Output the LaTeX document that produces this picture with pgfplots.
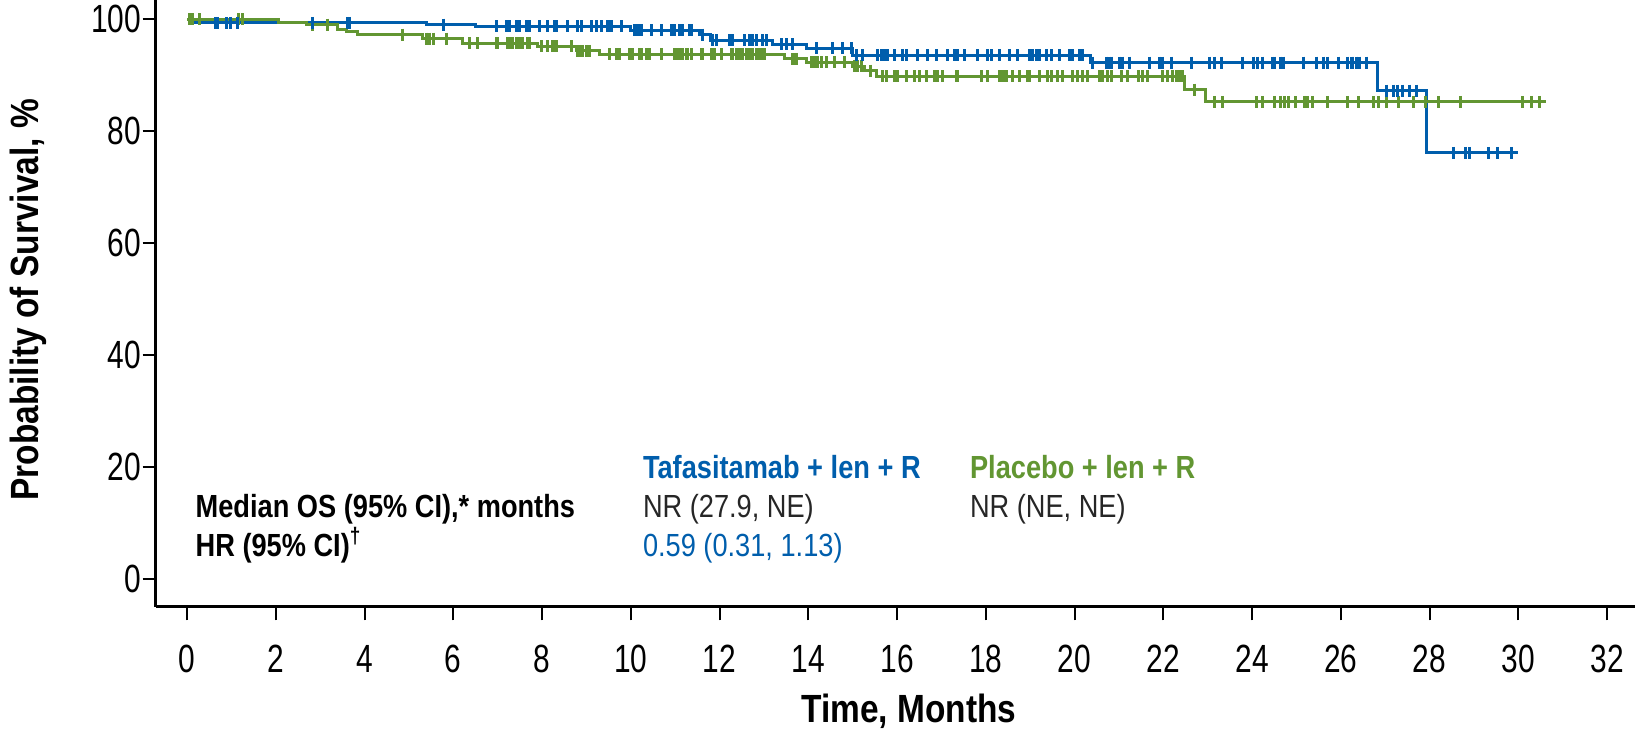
\documentclass[border=0pt]{standalone}
\usepackage{fontspec}
\setmainfont{Liberation Sans}[FakeStretch=0.85]
\newfontfamily\tickfont{Liberation Sans}[FakeStretch=0.76]
\usepackage{pgfplots}
\pgfplotsset{compat=1.18}
\definecolor{tafa}{RGB}{0,94,172}
\definecolor{plac}{RGB}{98,150,50}

\begin{document}
\begin{tikzpicture}
\begin{axis}[
 at={(0,0)}, anchor=south west,
 scale only axis,
 width=443.7pt, height=182.1pt,
 xmin=-0.7, xmax=32.63,
 ymin=-5, ymax=103.4,
 axis x line*=bottom, axis y line*=left,
 axis line style={line width=0.9pt},
 xtick={0,2,...,32}, ytick={0,20,...,100},
 tick align=outside,
 major tick length=4pt,
 tick style={line width=0.6pt, black},
 /pgf/number format/assume math mode=true,
 tick label style={font=\tickfont\fontsize{11.8}{13}\selectfont},
 xticklabel style={yshift=-4pt},
 yticklabel style={xshift=3.1pt},
 xlabel={\textbf{Time, Months}},
 ylabel={\textbf{Probability of Survival, \%}},
 label style={font=\fontsize{11.8}{13}\selectfont},
 xlabel style={at={(axis description cs:0.509,-0.171)}, anchor=center},
 ylabel style={at={(axis description cs:-0.086,0.506)}, anchor=center},
 clip=false,
]
% Tafasitamab + len + R
\addplot[const plot, tafa, line width=0.9pt] coordinates {
 (0,100) (0.15,99.3) (5.4,99.0) (6.5,98.7) (10.0,98.0) (11.55,97.2) (11.8,96.2)
 (13.2,95.5) (13.96,94.8) (15.0,93.5) (20.35,92.2) (26.82,87.2) (27.92,76.1) (30.0,76.1)};
% Placebo + len + R
\addplot[const plot, plac, line width=0.9pt] coordinates {
 (0,100) (2.05,99.4) (2.7,99.0) (3.4,98.2) (3.6,97.7) (3.85,97.2) (5.3,96.5) (6.2,95.7)
 (7.9,95.1) (8.77,94.3) (9.3,93.7) (13.46,92.9) (13.96,92.3) (15.0,91.6) (15.27,90.8)
 (15.53,89.8) (22.48,87.4) (22.96,85.2) (30.63,85.2)};
% censored, placebo
\addplot[only marks, mark=|, mark size=1.8pt, plac, mark options={line width=0.9pt}] table {
x y
0.05 100
0.12 100
0.29 100
1.17 100
1.24 100
2.82 99.0
3.16 99.0
4.85 97.2
5.39 96.5
5.46 96.5
5.55 96.5
5.84 96.5
6.36 95.7
6.54 95.7
6.97 95.7
6.99 95.7
7.22 95.7
7.26 95.7
7.33 95.7
7.42 95.7
7.49 95.7
7.56 95.7
7.67 95.7
7.71 95.7
7.98 95.1
8.12 95.1
8.23 95.1
8.28 95.1
8.32 95.1
8.66 95.1
8.80 94.3
8.84 94.3
8.91 94.3
9.00 94.3
9.07 94.3
9.52 93.7
9.68 93.7
9.74 93.7
9.97 93.7
10.04 93.7
10.19 93.7
10.24 93.7
10.35 93.7
10.42 93.7
10.69 93.7
10.98 93.7
11.03 93.7
11.10 93.7
11.16 93.7
11.25 93.7
11.28 93.7
11.37 93.7
11.59 93.7
11.61 93.7
11.82 93.7
11.88 93.7
12.04 93.7
12.27 93.7
12.29 93.7
12.38 93.7
12.45 93.7
12.52 93.7
12.61 93.7
12.67 93.7
12.74 93.7
12.83 93.7
12.90 93.7
12.97 93.7
13.01 93.7
13.64 92.9
13.69 92.9
13.73 92.9
14.07 92.3
14.14 92.3
14.21 92.3
14.30 92.3
14.41 92.3
14.59 92.3
14.82 92.3
15.04 91.6
15.11 91.6
15.20 91.6
15.40 90.8
15.67 89.8
15.76 89.8
15.94 89.8
16.01 89.8
16.22 89.8
16.40 89.8
16.51 89.8
16.67 89.8
16.85 89.8
16.91 89.8
17.03 89.8
17.34 89.8
17.37 89.8
17.91 89.8
18.04 89.8
18.31 89.8
18.36 89.8
18.43 89.8
18.47 89.8
18.61 89.8
18.76 89.8
18.94 89.8
18.99 89.8
19.21 89.8
19.40 89.8
19.49 89.8
19.62 89.8
19.73 89.8
19.96 89.8
20.07 89.8
20.19 89.8
20.30 89.8
20.57 89.8
20.64 89.8
20.75 89.8
20.84 89.8
21.06 89.8
21.20 89.8
21.43 89.8
21.52 89.8
21.65 89.8
21.99 89.8
22.10 89.8
22.21 89.8
22.30 89.8
22.37 89.8
22.44 89.8
22.71 87.4
23.16 85.2
23.34 85.2
24.11 85.2
24.24 85.2
24.51 85.2
24.63 85.2
24.74 85.2
24.81 85.2
24.97 85.2
25.19 85.2
25.26 85.2
25.37 85.2
25.69 85.2
26.16 85.2
26.39 85.2
26.73 85.2
26.84 85.2
27.04 85.2
27.31 85.2
27.63 85.2
27.90 85.2
28.21 85.2
28.69 85.2
30.09 85.2
30.29 85.2
30.47 85.2
};
% censored, tafasitamab
\addplot[only marks, mark=|, mark size=1.8pt, tafa, mark options={line width=0.9pt}] table {
x y
0.65 99.3
0.68 99.3
0.90 99.3
0.97 99.3
1.13 99.3
2.82 99.3
3.61 99.3
3.65 99.3
5.77 99.0
6.97 98.7
7.19 98.7
7.22 98.7
7.26 98.7
7.42 98.7
7.44 98.7
7.49 98.7
7.65 98.7
7.71 98.7
7.94 98.7
8.12 98.7
8.28 98.7
8.32 98.7
8.57 98.7
8.80 98.7
8.89 98.7
9.11 98.7
9.22 98.7
9.34 98.7
9.47 98.7
9.52 98.7
9.56 98.7
9.79 98.7
10.08 98.0
10.13 98.0
10.19 98.0
10.24 98.0
10.46 98.0
10.69 98.0
10.92 98.0
10.98 98.0
11.10 98.0
11.16 98.0
11.32 98.0
11.37 98.0
11.61 97.2
11.84 96.2
11.93 96.2
12.22 96.2
12.29 96.2
12.56 96.2
12.67 96.2
12.74 96.2
12.83 96.2
12.97 96.2
13.06 96.2
13.40 95.5
13.51 95.5
13.64 95.5
14.19 94.8
14.55 94.8
14.77 94.8
14.97 94.8
15.09 93.5
15.22 93.5
15.56 93.5
15.65 93.5
15.72 93.5
15.79 93.5
15.94 93.5
16.13 93.5
16.22 93.5
16.46 93.5
16.69 93.5
16.89 93.5
17.14 93.5
17.30 93.5
17.37 93.5
17.52 93.5
17.82 93.5
18.04 93.5
18.13 93.5
18.31 93.5
18.54 93.5
18.72 93.5
18.99 93.5
19.06 93.5
19.15 93.5
19.21 93.5
19.37 93.5
19.49 93.5
19.67 93.5
19.89 93.5
19.96 93.5
20.12 93.5
20.18 93.5
20.41 92.2
20.73 92.2
20.79 92.2
20.84 92.2
21.02 92.2
21.09 92.2
21.24 92.2
21.70 92.2
21.92 92.2
21.99 92.2
22.19 92.2
22.64 92.2
23.05 92.2
23.16 92.2
23.32 92.2
23.79 92.2
24.04 92.2
24.13 92.2
24.24 92.2
24.47 92.2
24.51 92.2
24.63 92.2
24.70 92.2
25.15 92.2
25.46 92.2
25.62 92.2
25.69 92.2
25.94 92.2
26.16 92.2
26.23 92.2
26.27 92.2
26.36 92.2
26.41 92.2
26.59 92.2
27.04 87.2
27.18 87.2
27.27 87.2
27.40 87.2
27.54 87.2
27.70 87.2
28.55 76.1
28.82 76.1
28.91 76.1
29.32 76.1
29.54 76.1
29.84 76.1
};
\begin{scope}[font=\fontsize{9.6}{11}\selectfont]
\node[anchor=base west, inner sep=0pt, text=tafa] at (axis cs:10.26,18.0) {\textbf{Tafasitamab + len + R}};
\node[anchor=base west, inner sep=0pt, text=plac] at (axis cs:17.63,18.0) {\textbf{Placebo + len + R}};
\node[anchor=base west, inner sep=0pt] at (axis cs:0.18,10.9) {\textbf{Median OS (95\% CI),* months}};
\node[anchor=base west, inner sep=0pt, text=black!85] at (axis cs:10.26,10.9) {NR (27.9, NE)};
\node[anchor=base west, inner sep=0pt, text=black!85] at (axis cs:17.63,10.9) {NR (NE, NE)};
\node[anchor=base west, inner sep=0pt] at (axis cs:0.18,4.1) {\textbf{HR (95\% CI)\textsuperscript{\dag}}};
\node[anchor=base west, inner sep=0pt, text=tafa] at (axis cs:10.26,4.1) {0.59 (0.31, 1.13)};
\end{scope}
\end{axis}
\pgfresetboundingbox
\useasboundingbox (-46.8pt,-37.2pt) rectangle (443.7pt,182.1pt);
\end{tikzpicture}
\end{document}
